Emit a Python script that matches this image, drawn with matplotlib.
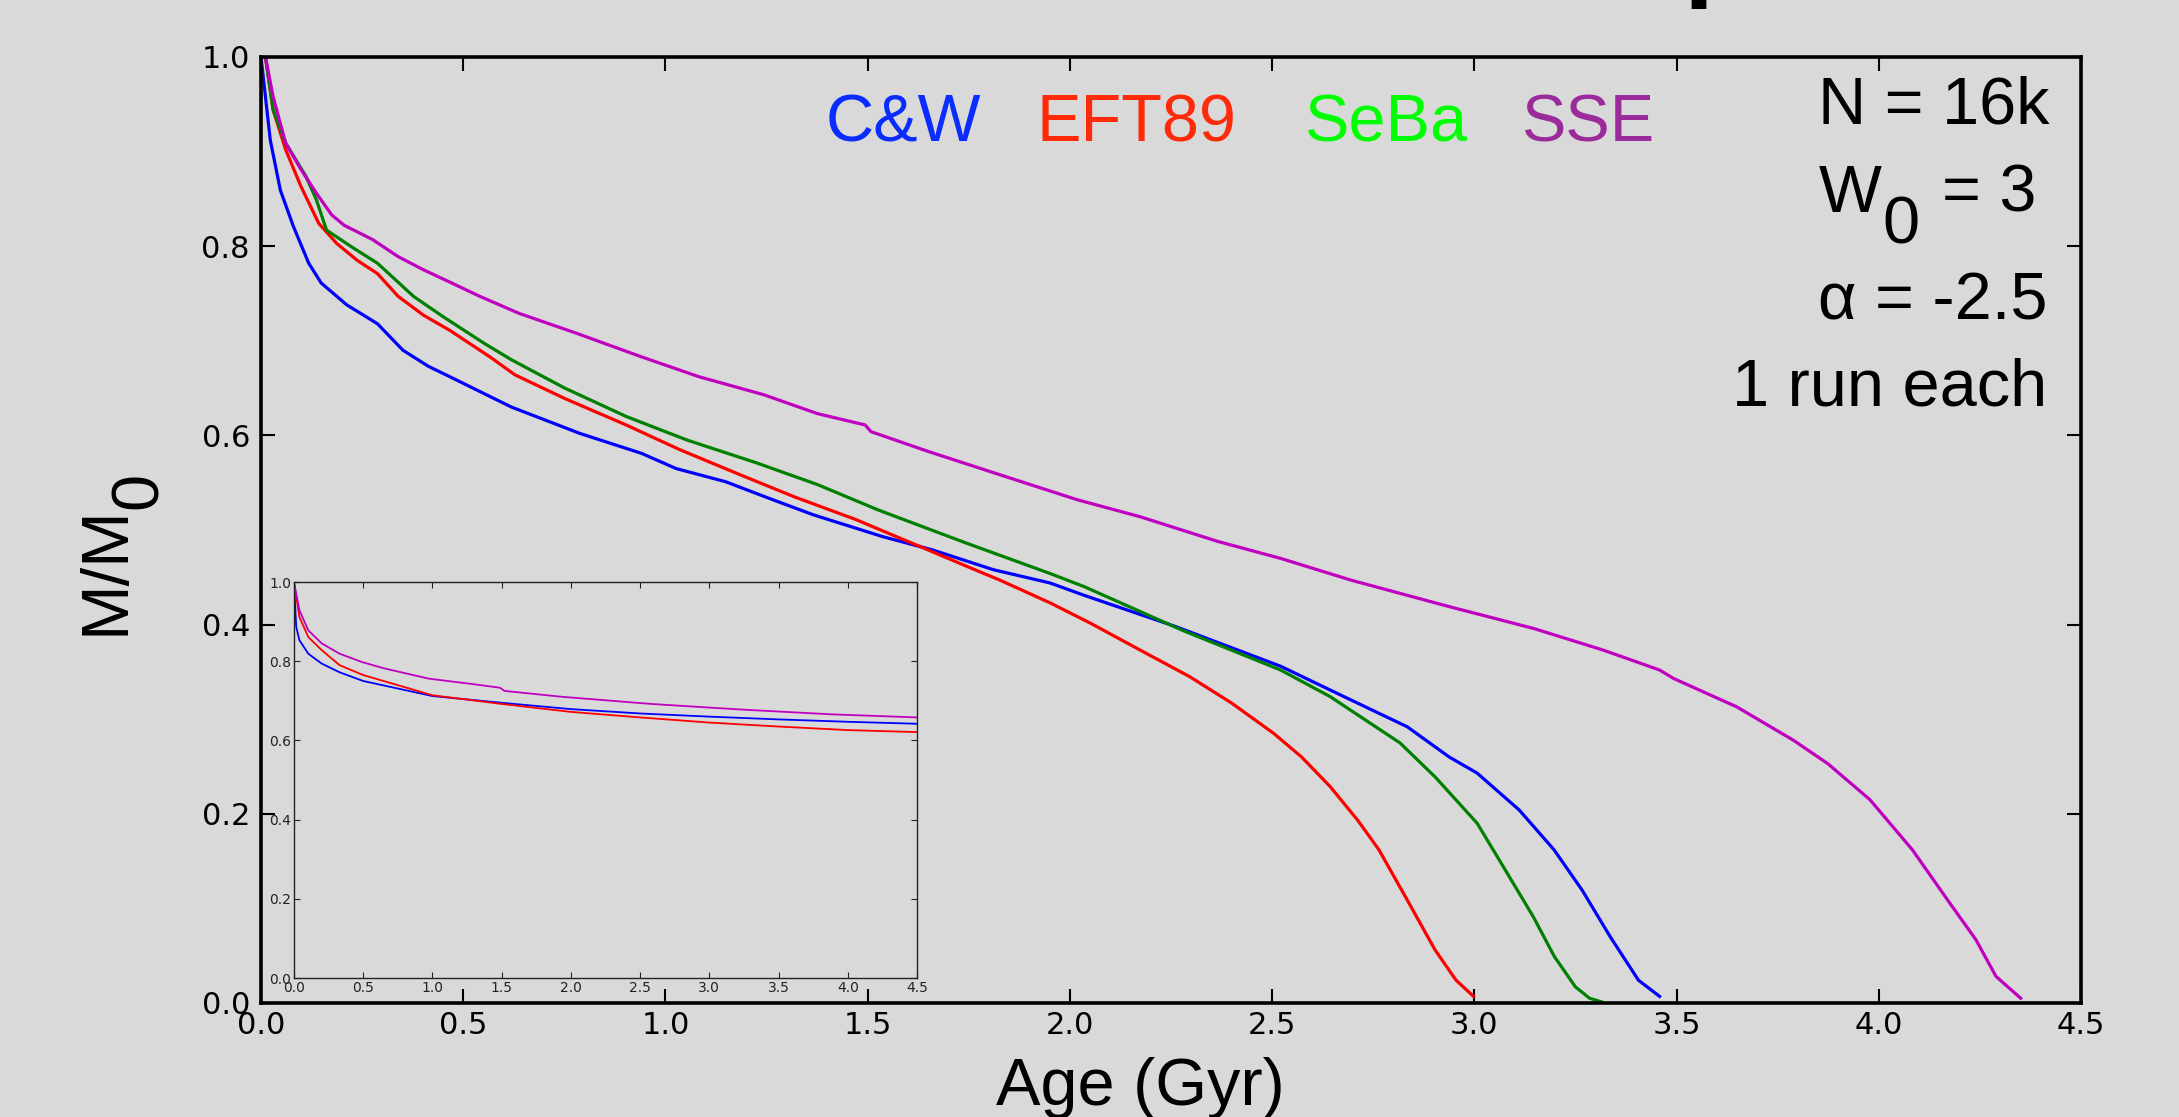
import matplotlib
matplotlib.use("Agg")
import matplotlib.pyplot as plt

# main panel: mass fraction vs age, one run per code
cw_t = [0.0, 0.023, 0.048, 0.080, 0.118, 0.149, 0.212, 0.288, 0.351, 0.414, 0.467, 0.619, 0.789,
        0.941, 1.026, 1.149, 1.253, 1.366, 1.537, 1.660, 1.811, 1.951, 2.035, 2.261, 2.521, 2.677,
        2.834, 2.938, 3.007, 3.111, 3.197, 3.267, 3.336, 3.406, 3.458]
cw_m = [1.0, 0.912, 0.859, 0.821, 0.782, 0.761, 0.738, 0.718, 0.690, 0.673, 0.662, 0.630, 0.602,
        0.581, 0.565, 0.551, 0.534, 0.516, 0.493, 0.479, 0.458, 0.444, 0.431, 0.398, 0.356, 0.324,
        0.292, 0.260, 0.243, 0.204, 0.162, 0.119, 0.070, 0.024, 0.007]

eft_t = [0.011, 0.03, 0.061, 0.099, 0.143, 0.187, 0.238, 0.288, 0.339, 0.402, 0.467, 0.566, 0.628,
         0.751, 0.903, 1.035, 1.187, 1.319, 1.471, 1.66, 1.754, 1.827, 1.951, 2.053, 2.174, 2.296,
         2.4, 2.504, 2.573, 2.643, 2.712, 2.764, 2.834, 2.903, 2.955, 2.998]
eft_m = [1.0, 0.944, 0.902, 0.863, 0.824, 0.803, 0.785, 0.771, 0.747, 0.727, 0.711, 0.683, 0.664,
         0.639, 0.611, 0.585, 0.558, 0.535, 0.511, 0.477, 0.460, 0.447, 0.423, 0.401, 0.373, 0.345,
         0.317, 0.285, 0.260, 0.229, 0.193, 0.162, 0.109, 0.056, 0.024, 0.007]

seba_t = [0.011, 0.03, 0.061, 0.111, 0.137, 0.162, 0.225, 0.288, 0.377, 0.452, 0.553, 0.619, 0.751,
          0.903, 1.054, 1.225, 1.376, 1.527, 1.745, 1.951, 2.036, 2.278, 2.521, 2.643, 2.816, 2.903,
          3.007, 3.076, 3.146, 3.198, 3.250, 3.285, 3.316]
seba_m = [1.0, 0.944, 0.909, 0.874, 0.849, 0.817, 0.799, 0.782, 0.747, 0.725, 0.697, 0.680, 0.650,
          0.620, 0.595, 0.571, 0.548, 0.521, 0.486, 0.454, 0.440, 0.394, 0.352, 0.324, 0.275, 0.239,
          0.190, 0.141, 0.091, 0.049, 0.017, 0.005, 0.001]

sse_t = [0.011, 0.03, 0.061, 0.099, 0.137, 0.175, 0.206, 0.276, 0.339, 0.402, 0.467, 0.541, 0.638,
         0.780, 0.941, 1.083, 1.243, 1.376, 1.494, 1.508, 1.65, 1.83, 2.018, 2.174, 2.365, 2.521,
         2.695, 2.938, 3.146, 3.319, 3.458, 3.493, 3.649, 3.788, 3.874, 3.978, 4.083, 4.17, 4.24,
         4.29, 4.351]
sse_m = [1.0, 0.958, 0.909, 0.881, 0.856, 0.833, 0.822, 0.807, 0.789, 0.775, 0.762, 0.747, 0.729,
         0.708, 0.683, 0.662, 0.643, 0.623, 0.611, 0.604, 0.583, 0.558, 0.532, 0.514, 0.488, 0.470,
         0.447, 0.419, 0.396, 0.373, 0.352, 0.343, 0.313, 0.278, 0.253, 0.215, 0.162, 0.109, 0.067,
         0.028, 0.005]

# inset panel
in_cw_t = [0.0, 0.016, 0.039, 0.103, 0.2, 0.329, 0.5, 1.0, 1.5, 2.0, 2.5, 3.0, 3.5, 4.0, 4.5]
in_cw_m = [1.0, 0.887, 0.853, 0.819, 0.794, 0.772, 0.750, 0.712, 0.695, 0.679, 0.668, 0.660, 0.653, 0.647, 0.642]
in_eft_t = [0.0, 0.039, 0.103, 0.2, 0.329, 0.5, 1.0, 1.5, 2.0, 2.5, 3.0, 3.5, 4.0, 4.5]
in_eft_m = [1.0, 0.912, 0.861, 0.828, 0.790, 0.765, 0.714, 0.692, 0.672, 0.658, 0.645, 0.635, 0.626, 0.621]
in_sse_t = [0.0, 0.039, 0.103, 0.2, 0.329, 0.49, 0.65, 0.973, 1.295, 1.488, 1.52, 1.939, 2.583, 3.227, 3.872, 4.5]
in_sse_m = [1.0, 0.929, 0.878, 0.845, 0.819, 0.798, 0.782, 0.756, 0.742, 0.733, 0.725, 0.710, 0.692, 0.678, 0.666, 0.658]

xticks = [0.0, 0.5, 1.0, 1.5, 2.0, 2.5, 3.0, 3.5, 4.0, 4.5]
yticks = [0.0, 0.2, 0.4, 0.6, 0.8, 1.0]

legend_names = ["C&W", "EFT89", "SeBa", "SSE"]
legend_cols = ["#0a2cff", "#ff2a0a", "#00ff00", "#9b2a9b"]
legend_x = [826, 1036, 1304, 1521]

W, H = 2179, 1117
bg = "#d9d9d9"
sans = "Liberation Sans"


def fx(px):
    return px / W


def fy(py):
    return 1 - py / H


fig = plt.figure(figsize=(W / 100, H / 100), dpi=100, facecolor=bg)

ax = fig.add_axes([fx(261), fy(1003), (2081 - 261) / W, (1003 - 57) / H])
ax.patch.set_alpha(0)
ax.plot(cw_t, cw_m, color="b", lw=2.3)
ax.plot(eft_t, eft_m, color="r", lw=2.3)
ax.plot(seba_t, seba_m, color="g", lw=2.3)
ax.plot(sse_t, sse_m, color="m", lw=2.3)
ax.set_xlim(0, 4.5)
ax.set_ylim(0, 1.0)
ax.set_xticks(xticks)
ax.set_yticks(yticks)
ax.set_xticklabels([f"{v:.1f}" for v in xticks], family="DejaVu Sans")
ax.set_yticklabels([f"{v:.1f}" for v in yticks], family="DejaVu Sans")
ax.tick_params(direction="in", length=10, width=1.5, top=True, right=True, labelsize=22)
ax.tick_params(axis="x", pad=6)
ax.tick_params(axis="y", pad=8)
for s in ax.spines.values():
    s.set_linewidth(2.6)

# inset
ax2 = fig.add_axes([fx(294), fy(978), (917 - 294) / W, (978 - 582) / H])
ax2.patch.set_alpha(0)
ax2.plot(in_cw_t, in_cw_m, color="b", lw=1.3)
ax2.plot(in_eft_t, in_eft_m, color="r", lw=1.3)
ax2.plot(in_sse_t, in_sse_m, color="m", lw=1.3)
ax2.set_xlim(0, 4.5)
ax2.set_ylim(0, 1.0)
ax2.set_xticks(xticks)
ax2.set_yticks(yticks)
ax2.set_xticklabels([f"{v:.1f}" for v in xticks], family="DejaVu Sans")
ax2.set_yticklabels([f"{v:.1f}" for v in yticks], family="DejaVu Sans")
ax2.tick_params(direction="in", length=4, width=0.8, top=True, right=True, labelsize=10,
                pad=2, colors="#222222")
for s in ax2.spines.values():
    s.set_linewidth(1.0)
    s.set_color("#222222")

# axis labels (subscripts drawn full size, as in the slide)
fig.text(fx(1140), fy(1105), "Age (Gyr)", family=sans, fontsize=48, ha="center", va="baseline")
fig.text(fx(107), fy(570), "M/M", family=sans, fontsize=48, rotation=90, ha="center", va="center")
fig.text(fx(140), fy(490), "0", family=sans, fontsize=48, rotation=90, ha="center", va="center")

# colour legend
for name, col, x in zip(legend_names, legend_cols, legend_x):
    fig.text(fx(x), fy(142), name, color=col, family=sans, fontsize=48, ha="left", va="baseline")

# run parameters
fig.text(fx(2049), fy(123), "N = 16k", family=sans, fontsize=48, ha="right", va="baseline")
fig.text(fx(1882), fy(212), "W", family=sans, fontsize=48, ha="right", va="baseline")
fig.text(fx(1882), fy(243), "0", family=sans, fontsize=48, ha="left", va="baseline")
fig.text(fx(2036), fy(212), "= 3", family=sans, fontsize=48, ha="right", va="baseline")
fig.text(fx(2047), fy(320), "α = -2.5", family=sans, fontsize=48, ha="right", va="baseline")
fig.text(fx(2047), fy(405), "1 run each", family=sans, fontsize=48, ha="right", va="baseline")

# bit of the slide title cut off at the top
fig.text(fx(1684), fy(-13), "p", family=sans, fontsize=78, fontweight="bold", ha="left", va="baseline")

fig.savefig("out.png", dpi=100, facecolor=bg)
